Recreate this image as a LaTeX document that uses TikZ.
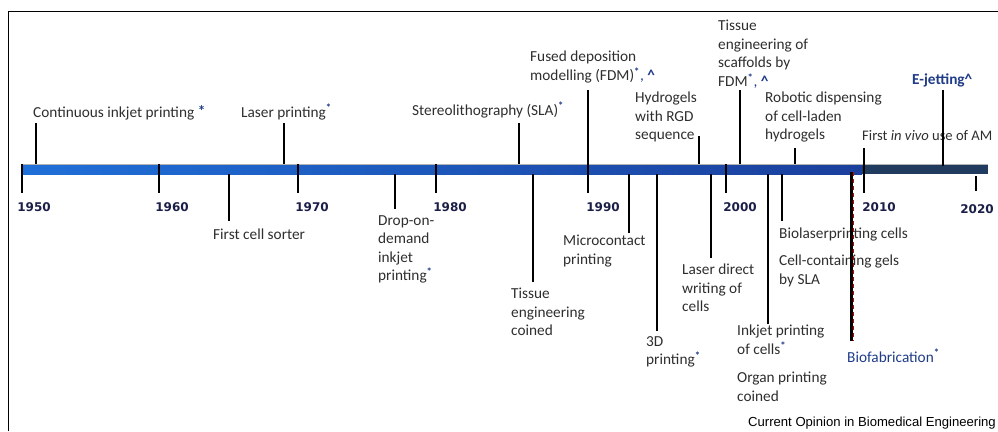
\documentclass[tikz,border=0pt]{standalone}
\usepackage{fontspec}
\setmainfont{Carlito}
\newfontfamily\yearfont{DejaVu Sans}
\newfontfamily\capfont{Liberation Sans}
\definecolor{txtgray}{HTML}{2E2E2E}
\definecolor{yrnavy}{HTML}{1B1F47}
\definecolor{starblue}{HTML}{1F3C88}
\definecolor{barL}{HTML}{1F6FD8}
\definecolor{barM}{HTML}{1B3F9C}
\definecolor{barR}{HTML}{213B5E}

\tikzset{
  evt/.style={font=\fontsize{15.3}{18.5}\selectfont, text=txtgray, align=left, inner sep=0pt, anchor=north west},
  hot/.style={evt, text=starblue, font=\fontsize{15.3}{18.5}\selectfont\bfseries},
  yrlab/.style={font=\yearfont\bfseries\fontsize{12}{14}\selectfont, text=yrnavy, inner sep=0pt},
  yrtick/.style={line width=1.3pt, black},
  stem/.style={line width=2.3pt, black}
}
\newcommand{\st}{\textsuperscript{\color{starblue}\bfseries*}}
\newcommand{\hatmark}{{\color{starblue}\textbf{\textasciicircum}}}

\begin{document}
\begin{tikzpicture}[x=1pt,y=-1pt]
  \useasboundingbox (0,0) rectangle (998,431);
  % frame
  \draw[line width=1pt] (8,431) -- (8,11) -- (998,11);
  % time bar
  \shade[left color=barL, right color=barM] (22,164) rectangle (862,174);
  \fill[barR] (862,164) rectangle (988,174);
  \draw[gray!60, line width=0.4pt] (22,164) -- (988,164);
  % years
  \foreach \yr/\tx/\lx in {1950/22/34, 1960/159/172, 1970/298/312, 1980/436/450, 1990/588/603, 2000/726/740, 2010/864/879} {
    \coordinate (t\yr) at (\tx,164);
    \draw[yrtick] (t\yr) -- ++(0,29);
    \node[yrlab] (y\yr) at (\lx,207) {\yr};
  }
  \coordinate (t2020) at (976,176);
  \draw[yrtick] (t2020) -- ++(0,15);
  \node[yrlab] (y2020) at (977,209) {2020};

  % events above the bar
  \node[evt] (cij) at (33,105) {Continuous inkjet printing {\color{starblue}\raisebox{1pt}{\bfseries*}}};
  \node[evt] (laser) at (241,104) {Laser printing\st};
  \node[evt] (sla) at (412,102) {Stereolithography (SLA)\st};
  \node[evt] (fdm) at (530,51) {Fused deposition\\modelling (FDM)\st{\color{starblue},} \hatmark};
  \node[evt] (hydro) at (635,92) {Hydrogels\\with RGD\\sequence};
  \node[evt] (tescaf) at (718,20) {Tissue\\engineering of\\scaffolds by\\FDM\st{\color{starblue},} \hatmark};
  \node[evt] (robotic) at (765,92) {Robotic dispensing\\of cell-laden\\hydrogels};
  \node[evt, font=\fontsize{14.6}{18.5}\selectfont] (invivo) at (862,130) {First \textit{in vivo} use of AM};
  \node[hot] (ejet) at (912,74) {E-jetting\textasciicircum};

  \coordinate (cij-t) at (36,123);     \draw[stem] (cij-t) -- (36,164);
  \coordinate (laser-t) at (284,123);  \draw[stem] (laser-t) -- (284,164);
  \coordinate (sla-t) at (519,123);    \draw[stem] (sla-t) -- (519,164);
  \coordinate (fdm-t) at (588,90);     \draw[stem] (fdm-t) -- (588,164);
  \coordinate (hydro-t) at (699,136);  \draw[stem] (hydro-t) -- (699,164);
  \coordinate (tescaf-t) at (740,90);  \draw[stem] (tescaf-t) -- (740,164);
  \coordinate (robotic-t) at (795,148);\draw[stem] (robotic-t) -- (795,164);
  \coordinate (invivo-t) at (864,148); \draw[yrtick, line width=1.8pt] (invivo-t) -- (864,164);
  \coordinate (ejet-t) at (943,90);    \draw[stem] (ejet-t) -- (943,166);

  % events below the bar
  \node[evt] (sorter) at (213,229) {First cell sorter};
  \node[evt] (dod) at (378,215) {Drop-on-\\demand\\inkjet\\printing\st};
  \node[evt] (tecoined) at (511,288) {Tissue\\engineering\\coined};
  \node[evt] (micro) at (563,235) {Microcontact\\printing};
  \node[evt] (threeD) at (646,336) {3D\\printing\st};
  \node[evt] (ldw) at (682,264) {Laser direct\\writing of\\cells};
  \node[evt] (inkcells) at (737,325) {Inkjet printing\\of cells\st};
  \node[evt] (organ) at (737,372) {Organ printing\\coined};
  \node[evt] (biolaser) at (779,228) {Biolaserprinting cells};
  \node[evt] (cellgel) at (779,255) {Cell-containing gels\\by SLA};
  \node[hot, font=\fontsize{15.3}{18.5}\selectfont] (biofab) at (847,349) {Biofabrication\st};

  \coordinate (sorter-b) at (229,221);   \draw[stem] (229,174) -- (sorter-b);
  \coordinate (dod-b) at (395,209);      \draw[stem] (395,174) -- (dod-b);
  \coordinate (tecoined-b) at (533,282); \draw[stem] (533,174) -- (tecoined-b);
  \coordinate (micro-b) at (629,233);    \draw[stem] (629,174) -- (micro-b);
  \coordinate (threeD-b) at (657,331);   \draw[stem] (657,174) -- (threeD-b);
  \coordinate (ldw-b) at (711,258);      \draw[stem] (711,174) -- (ldw-b);
  \coordinate (inkcells-b) at (768,324); \draw[stem] (768,174) -- (inkcells-b);
  \coordinate (biolaser-b) at (782,221); \draw[stem] (782,174) -- (biolaser-b);
  \coordinate (biofab-b) at (851,341);
  \draw[red!80!black, line width=0.6pt, dash pattern=on 4pt off 3pt] (853.5,172) -- (853.5,341);
  \draw[line width=3pt, black] (851,172) -- (biofab-b);

  % source line
  \node[font=\capfont\fontsize{13.1}{15}\selectfont, anchor=west, inner sep=0pt] (src) at (748,423) {Current Opinion in Biomedical Engineering};
\end{tikzpicture}
\end{document}
